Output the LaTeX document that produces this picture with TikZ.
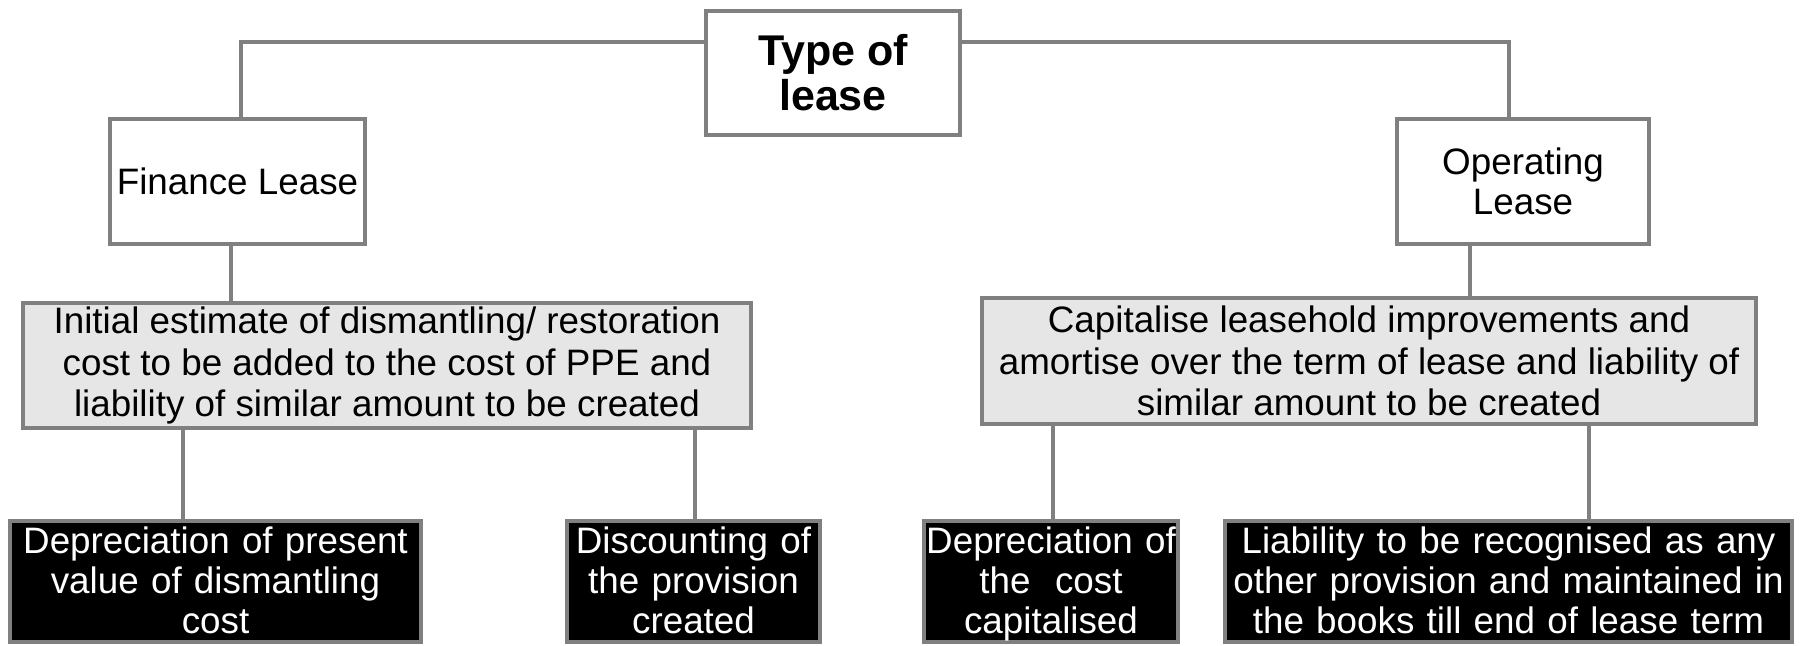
\documentclass[tikz,border=0pt]{standalone}
\usepackage{fontspec}
\setmainfont{Liberation Sans}
\definecolor{bordergray}{HTML}{808080}
\definecolor{lightfill}{HTML}{E6E6E6}
\begin{document}
\begin{tikzpicture}[x=0.5pt,y=-0.5pt,
  basebox/.style={draw=bordergray, line width=2pt, align=center, inner sep=2pt, font=\fontsize{18.4}{20}\selectfont},
  whitebox/.style={basebox, fill=white},
  graybox/.style={basebox, fill=lightfill, font=\fontsize{18.4}{20.6}\selectfont},
  darkbox/.style={basebox, fill=black, text=white, anchor=north, text height=13.5pt, text depth=42pt, inner xsep=1pt, inner ysep=2.5pt},
  conn/.style={draw=bordergray, line width=2pt}]
\useasboundingbox (0,0) rectangle (1802,646);
\clip (0,0) rectangle (1802,646);

% nodes
\node[whitebox, minimum width=127pt, minimum height=62pt, font=\fontsize{21.5}{22.5}\selectfont\bfseries] (type) at (833,73) {Type of\\lease};
\node[whitebox, minimum width=127.5pt, minimum height=62.5pt] (fin) at (237.5,181.5) {Finance Lease};
\node[whitebox, minimum width=126pt, minimum height=62.5pt] (op) at (1523,181.5) {Operating\\Lease};
\node[graybox, minimum width=364pt, minimum height=62.5pt] (init) at (387,365.5) {Initial estimate of dismantling/ restoration\\cost to be added to the cost of PPE and\\liability of similar amount to be created};
\node[graybox, minimum width=387pt, minimum height=63pt] (cap) at (1369,361) {Capitalise leasehold improvements and\\amortise over the term of lease and liability of\\similar amount to be created};

\node[darkbox, text width=203.5pt] (dep) at (215.5,519) {Depreciation of present\\value of dismantling\\cost};
\node[darkbox, text width=124.5pt] (disc) at (693.5,519) {Discounting of\\the provision\\created};
\node[darkbox, text width=125pt] (depc) at (1051,519) {Depreciation of\\the~ cost\\capitalised};
\node[darkbox, text width=281.5pt] (liab) at (1508.5,519) {Liability to be recognised as any\\other provision and maintained in\\the books till end of lease term};

% connector coordinates
\coordinate (tl) at (241,42);
\coordinate (tr) at (1509,42);
\coordinate (c1) at (231,0);
\coordinate (c2) at (1470,0);
\coordinate (c3) at (183,0);
\coordinate (c4) at (695,0);
\coordinate (c5) at (1053,0);
\coordinate (c6) at (1589,0);

\draw[conn] (type.west |- tl) -- (tl) -- (fin.north -| tl);
\draw[conn] (type.east |- tr) -- (tr) -- (op.north -| tr);
\draw[conn] (fin.south -| c1) -- (init.north -| c1);
\draw[conn] (op.south -| c2) -- (cap.north -| c2);
\draw[conn] (init.south -| c3) -- (dep.north -| c3);
\draw[conn] (init.south -| c4) -- (disc.north -| c4);
\draw[conn] (cap.south -| c5) -- (depc.north -| c5);
\draw[conn] (cap.south -| c6) -- (liab.north -| c6);
\end{tikzpicture}
\end{document}
